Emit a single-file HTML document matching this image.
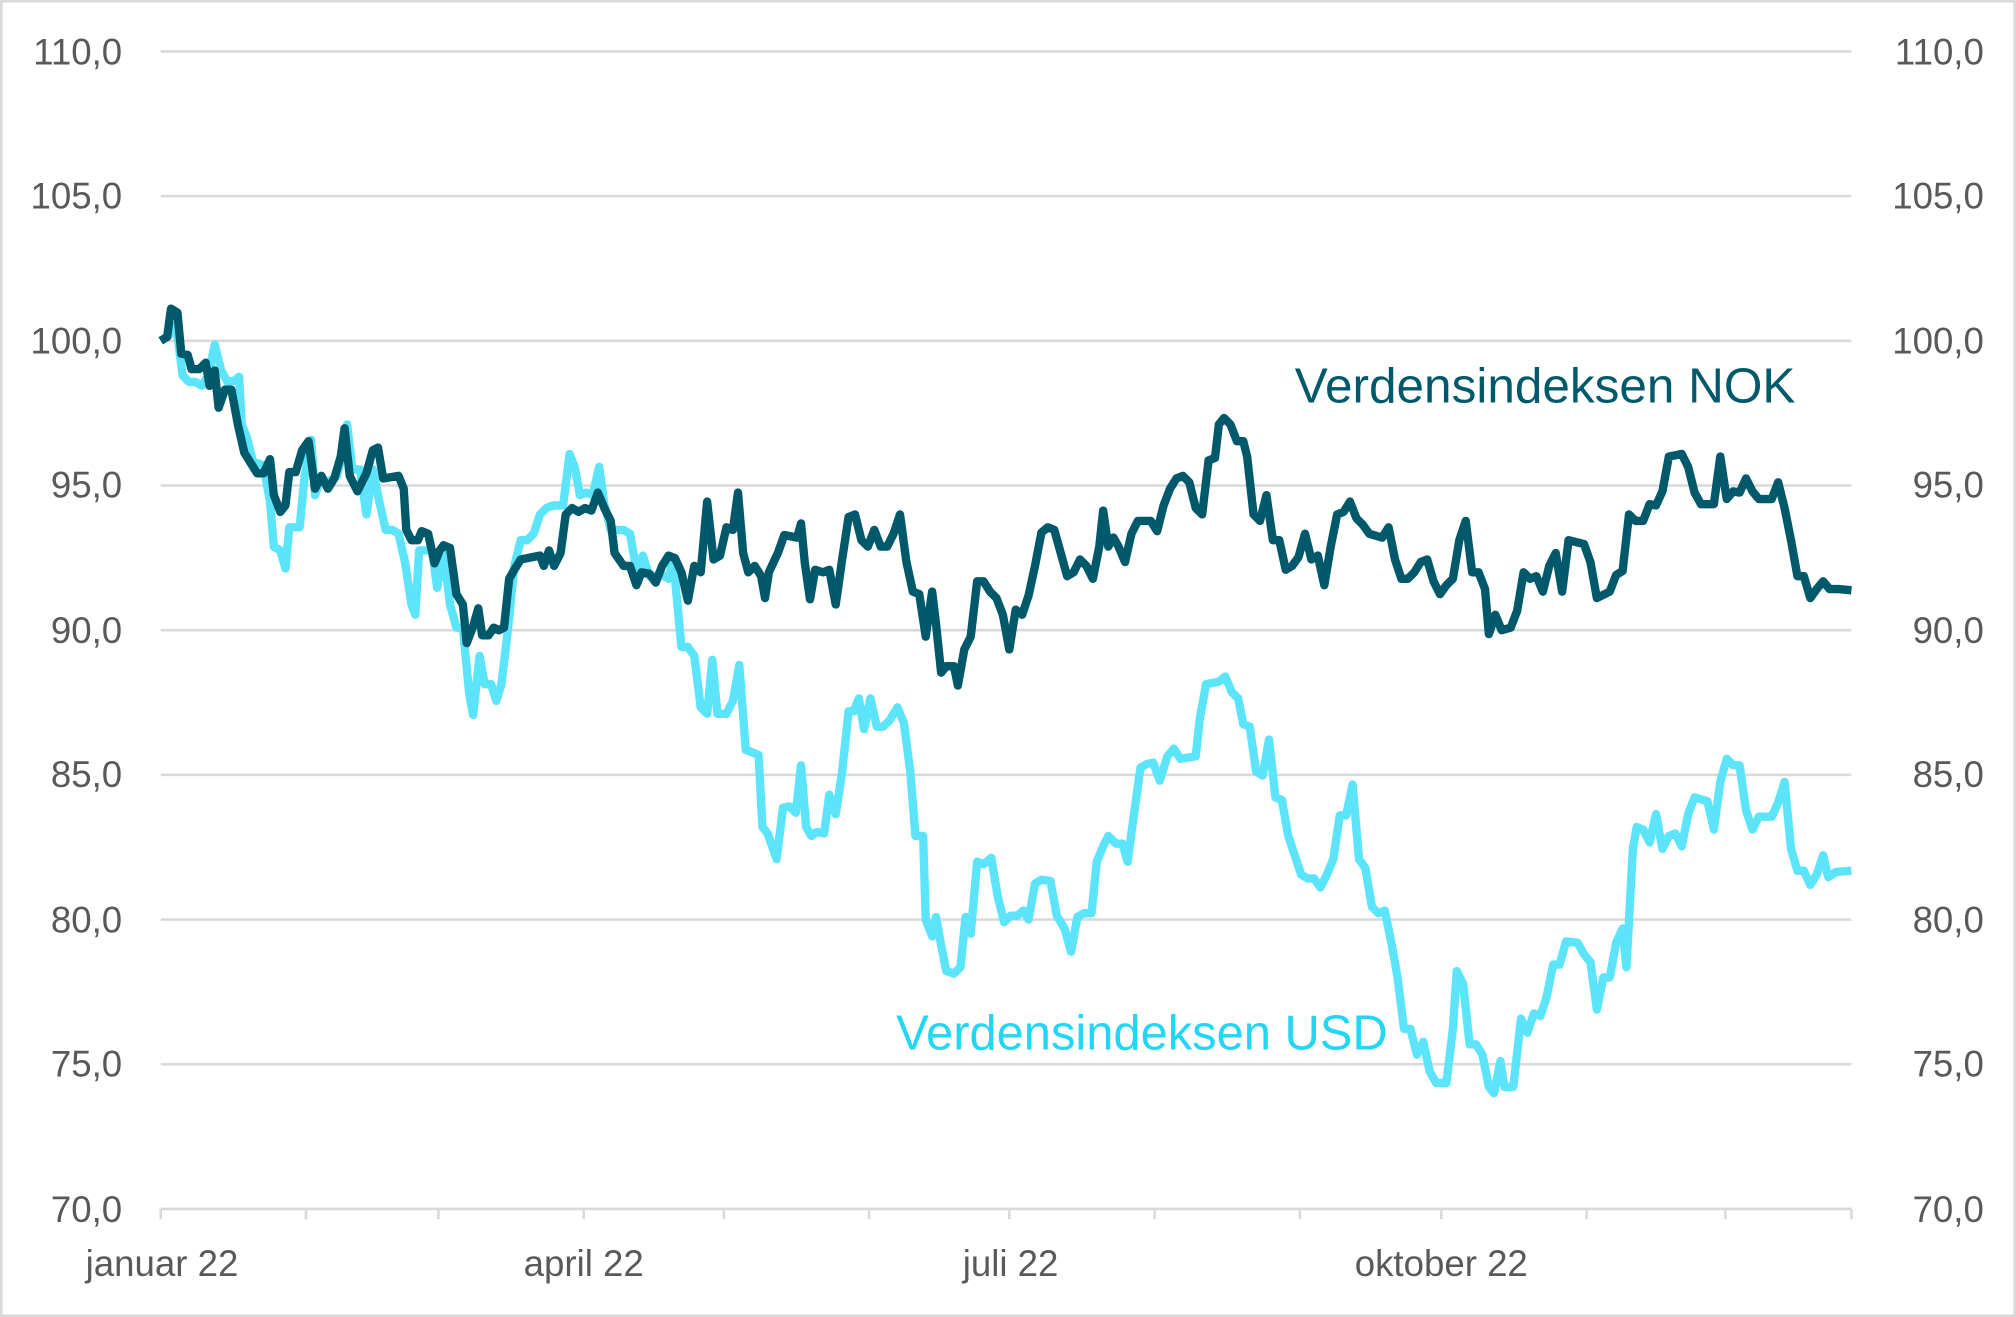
<!DOCTYPE html>
<html><head><meta charset="utf-8"><style>
html,body{margin:0;padding:0;background:#fff;}
svg{display:block;}
text{font-family:"Liberation Sans",sans-serif;}
</style></head><body>
<svg width="2016" height="1317" viewBox="0 0 1568 1024" preserveAspectRatio="none" xmlns="http://www.w3.org/2000/svg">
<rect x="1" y="1" width="1566" height="1022" fill="#fff" stroke="#d9d9d9" stroke-width="2"/>
<g stroke="#d9d9d9" stroke-width="2">
<line x1="125" x2="1440" y1="40" y2="40"/><line x1="125" x2="1440" y1="152.5" y2="152.5"/>
<line x1="125" x2="1440" y1="265" y2="265"/><line x1="125" x2="1440" y1="377.5" y2="377.5"/>
<line x1="125" x2="1440" y1="490" y2="490"/><line x1="125" x2="1440" y1="602.5" y2="602.5"/>
<line x1="125" x2="1440" y1="715" y2="715"/><line x1="125" x2="1440" y1="827.5" y2="827.5"/>
<line x1="125" x2="1440" y1="940" y2="940"/>
<path d="M125 940v8M238 940v8M341 940v8M454 940v8M563 940v8M676 940v8M785 940v8M898 940v8M1011 940v8M1121 940v8M1234 940v8M1342 940v8M1440 940v8"/>
</g>
<g fill="#595959" font-size="28.5">
<g text-anchor="end">
<text x="95" y="50">110,0</text><text x="95" y="162">105,0</text><text x="95" y="275">100,0</text><text x="95" y="387">95,0</text><text x="95" y="500">90,0</text><text x="95" y="612">85,0</text><text x="95" y="725">80,0</text><text x="95" y="837">75,0</text><text x="95" y="950">70,0</text>
</g>
<g text-anchor="end">
<text x="1543" y="50">110,0</text><text x="1543" y="162">105,0</text><text x="1543" y="275">100,0</text><text x="1543" y="387">95,0</text><text x="1543" y="500">90,0</text><text x="1543" y="612">85,0</text><text x="1543" y="725">80,0</text><text x="1543" y="837">75,0</text><text x="1543" y="950">70,0</text>
</g>
<g text-anchor="middle">
<text x="126" y="992">januar 22</text><text x="454" y="992">april 22</text><text x="786" y="992">juli 22</text><text x="1121" y="992">oktober 22</text>
</g>
</g>
<text x="1007" y="313" font-size="38.5" fill="#00596a">Verdensindeksen NOK</text>
<text x="697" y="816" font-size="38" fill="#22d6f5">Verdensindeksen USD</text>
<polyline fill="none" stroke="#5ce4fa" stroke-width="6.5" stroke-linejoin="round" points="125,265 132,260 137,253 142,292 147,297 152,297 157,300 162,292 167,268 172,288 177,297 182,296 186,293 188,330 192,340 197,360 200,360 205,362 210,390 213,425 218,428 222,442 225,410 233,410 237,370 242,342 245,385 249,373 253,375 258,373 262,370 266,355 270,330 274,365 280,365 285,400 290,365 295,390 300,412 305,412 310,415 315,437 320,470 323,478 326,428 331,428 336,428 340,457 345,428 350,470 355,488 360,488 365,540 368,556 373,510 377,532 382,532 386,545 390,532 395,490 400,440 405,420 410,420 415,415 420,400 425,395 430,393 438,393 443,353 447,363 451,385 456,383 461,385 466,363 470,392 475,412 485,412 490,415 495,443 500,432 505,448 515,447 520,450 523,435 525,450 530,503 535,503 540,510 545,550 550,555 554,513 558,555 565,555 570,545 575,517 580,583 585,585 590,587 593,643 597,648 604,668 609,628 614,627 619,632 623,595 627,643 631,650 635,647 641,648 645,618 650,633 655,600 660,553 664,553 668,543 672,567 677,543 682,565 687,565 692,560 698,550 703,562 708,600 712,650 718,650 720,715 725,728 728,713 732,735 736,755 742,757 747,752 751,713 755,726 760,670 765,672 771,667 776,697 781,717 786,712 791,712 796,708 800,715 805,687 810,684 817,685 822,712 828,722 833,740 838,713 843,710 849,710 853,670 858,658 862,650 868,656 873,656 877,670 882,633 887,597 892,594 897,593 902,607 908,588 913,582 918,590 930,588 933,560 938,532 948,530 953,526 958,538 963,543 967,563 972,565 977,600 982,603 987,575 992,620 997,622 1002,650 1007,665 1012,680 1017,683 1022,683 1027,690 1032,680 1037,668 1042,634 1047,634 1052,610 1057,668 1062,675 1067,705 1072,710 1077,708 1082,732 1087,760 1092,800 1097,800 1102,820 1107,810 1112,833 1117,842 1125,842 1130,800 1133,755 1138,765 1143,812 1148,812 1153,820 1158,845 1162,850 1167,825 1170,845 1177,845 1183,792 1188,803 1193,788 1198,790 1203,775 1208,750 1213,750 1218,732 1227,733 1232,742 1237,748 1242,785 1247,760 1252,760 1257,733 1262,722 1265,752 1270,660 1273,643 1278,645 1283,655 1288,633 1293,660 1298,650 1303,648 1308,658 1313,633 1318,620 1328,623 1333,645 1338,608 1343,590 1348,595 1353,595 1358,630 1363,645 1368,635 1378,635 1383,624 1388,608 1393,660 1398,677 1403,677 1408,688 1413,680 1418,665 1422,682 1428,678 1440,677"/>
<polyline fill="none" stroke="#00596a" stroke-width="6.5" stroke-linejoin="round" points="125,265 130,262 133,240 138,243 141,275 146,276 149,287 155,287 160,282 163,300 167,288 170,317 175,303 180,303 185,330 190,352 195,360 200,368 205,368 210,357 213,385 218,398 222,393 225,367 230,367 235,350 240,343 245,380 250,370 255,380 260,372 265,355 268,333 272,370 278,382 285,368 290,350 294,348 298,372 310,370 314,380 316,412 320,420 325,420 328,413 333,415 338,438 342,428 345,424 350,426 355,462 360,470 363,500 368,487 372,473 375,494 380,494 384,488 388,490 392,488 396,450 400,443 405,435 415,433 420,432 423,440 427,428 431,440 436,430 440,400 445,395 450,398 455,395 460,397 465,383 470,395 475,405 478,430 485,440 490,440 495,455 499,445 505,446 510,453 515,440 520,432 525,434 530,445 535,467 540,440 545,445 550,390 555,435 560,432 565,410 570,412 574,383 578,430 582,445 587,440 592,448 595,465 598,445 605,430 610,416 620,418 623,407 626,438 630,466 634,443 640,445 645,443 650,470 655,435 660,402 665,400 670,420 675,425 680,412 685,425 690,425 695,415 700,400 705,437 710,460 715,462 720,495 725,460 728,485 732,523 736,518 742,518 745,533 750,505 755,495 760,452 765,452 770,460 775,465 780,478 785,505 790,474 795,478 800,463 805,440 810,414 815,410 820,412 825,430 830,448 835,445 840,435 845,440 850,450 855,425 858,397 862,425 866,418 870,425 875,437 880,415 885,405 895,405 900,413 905,393 910,380 915,372 920,370 925,375 930,395 935,400 940,358 945,356 948,330 952,325 957,330 962,343 967,343 970,355 975,400 980,405 985,385 990,420 995,420 1000,443 1005,440 1010,433 1015,415 1020,435 1025,432 1030,455 1035,425 1040,400 1045,398 1050,390 1055,403 1060,408 1065,415 1075,418 1080,410 1085,435 1090,450 1095,450 1100,445 1105,437 1110,435 1115,452 1120,462 1125,455 1130,450 1135,420 1140,405 1145,445 1150,445 1155,458 1158,493 1163,478 1168,490 1175,488 1180,475 1185,445 1190,450 1195,448 1200,460 1205,440 1210,430 1215,460 1220,420 1232,423 1237,437 1242,465 1252,460 1257,447 1262,444 1267,400 1272,405 1278,405 1283,392 1288,393 1293,382 1298,355 1308,353 1313,363 1318,383 1323,392 1333,392 1338,355 1343,388 1348,382 1353,383 1358,372 1363,382 1368,388 1378,388 1383,375 1388,395 1393,420 1398,448 1403,448 1408,465 1413,458 1418,452 1423,458 1430,458 1440,459"/>
</svg>
</body></html>
